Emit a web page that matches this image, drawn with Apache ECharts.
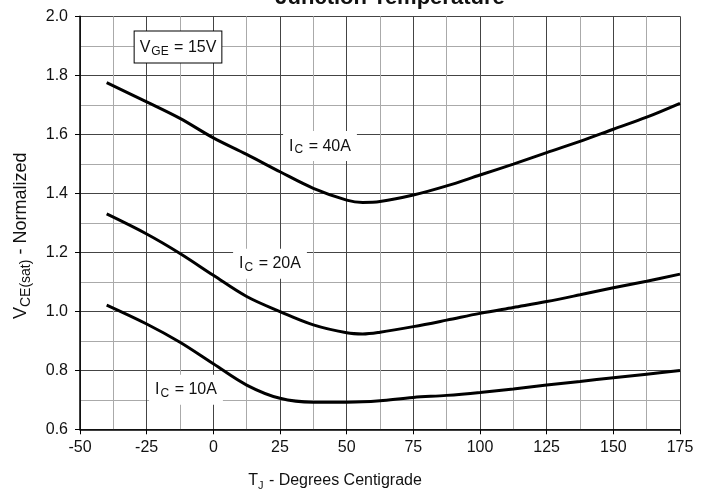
<!DOCTYPE html>
<html>
<head>
<meta charset="utf-8">
<script src="https://cdn.jsdelivr.net/npm/echarts@6/dist/echarts.min.js"></script>
<style>
html,body{margin:0;padding:0;background:#fff;}
#c{width:713px;height:498px;}
</style>
</head>
<body>
<div id="c"></div>
<script>
// Junction temperature (°C)
const temps = [-40, -25, -12.5, 0, 12.5, 25, 37.5, 50, 56, 62.5, 75, 87.5, 100, 112.5, 125, 137.5, 150, 162.5, 175];
// Normalized VCE(sat)
const ic40 = [1.775, 1.710, 1.654, 1.588, 1.532, 1.473, 1.417, 1.377, 1.369, 1.372, 1.394, 1.425, 1.462, 1.499, 1.538, 1.576, 1.617, 1.658, 1.705];
const ic20 = [1.330, 1.262, 1.196, 1.122, 1.050, 0.999, 0.954, 0.927, 0.923, 0.929, 0.948, 0.970, 0.993, 1.013, 1.033, 1.056, 1.080, 1.102, 1.126];
const ic10 = [1.021, 0.957, 0.895, 0.822, 0.750, 0.705, 0.692, 0.692, 0.693, 0.697, 0.708, 0.715, 0.725, 0.737, 0.750, 0.762, 0.775, 0.787, 0.799];
const xTicks = [-50, -25, 0, 25, 50, 75, 100, 125, 150, 175];
const yTicks = [0.6, 0.8, 1.0, 1.2, 1.4, 1.6, 1.8, 2.0];
// annotation labels
const labels = [
  {main: 'I', sub: 'C', rest: ' = 40A', at: [40, 1.56]},
  {main: 'I', sub: 'C', rest: ' = 20A', at: [21.25, 1.161]},
  {main: 'I', sub: 'C', rest: ' = 10A', at: [-10.25, 0.734]}
];
const vgeLabel = {main: 'V', sub: 'GE', rest: ' = 15V', at: [-13.25, 1.896]};

const FONT = '"Liberation Sans", Arial, Helvetica, sans-serif';
const rich = {
  m: {fontSize: 16, fontFamily: FONT, color: '#111', lineHeight: 20},
  s: {fontSize: 12, fontFamily: FONT, color: '#111', lineHeight: 20, verticalAlign: 'bottom', padding: [8, 1, 0, 1]}
};
function pair(a){ return a.map((v,i)=>[temps[i], v]); }
function mp(l, boxed){
  return {
    coord: l.at,
    symbol: 'rect', symbolSize: 0,
    label: {
      show: true, position: 'inside',
      formatter: '{m|' + l.main + '}{s|' + l.sub + '}{m|' + l.rest + '}',
      rich: rich,
      backgroundColor: '#fff',
      borderColor: boxed ? '#000' : 'transparent',
      borderWidth: boxed ? 1 : 0,
      padding: boxed ? [6, 5, 5, 5] : [5, 6, 5, 6]
    }
  };
}
const lineStyle = {color: '#000', width: 3};
const chart = echarts.init(document.getElementById('c'), null, {renderer: 'canvas'});
chart.setOption({
  animation: false,
  backgroundColor: '#fff',
  title: {
    text: 'Junction Temperature',
    left: 385, top: -18, textAlign: 'center',
    textStyle: {fontSize: 22, fontWeight: 'bold', fontFamily: FONT, color: '#111'}
  },
  grid: {left: 80, right: 33, top: 16.3, bottom: 68.7, containLabel: false},
  xAxis: {
    type: 'value', min: -50, max: 175, interval: 25,
    name: '{m|T}{s|J}{n| - Degrees Centigrade}',
    nameLocation: 'middle', nameGap: 40,
    nameTextStyle: {
      padding: [0, 90, 0, 0],
      rich: {
        m: {fontSize: 16, fontFamily: FONT, color: '#111', lineHeight: 22},
        n: {fontSize: 16, fontFamily: FONT, color: '#111', lineHeight: 22},
        s: {fontSize: 11, fontFamily: FONT, color: '#111', lineHeight: 22, verticalAlign: 'bottom', padding: [8, 1, 0, 0]}
      }
    },
    axisLine: {show: true, onZero: false, lineStyle: {color: '#000', width: 1.5}},
    axisTick: {show: true, inside: false, length: 5, lineStyle: {color: '#000'}},
    axisLabel: {fontSize: 16, fontFamily: FONT, color: '#111', margin: 10,
      formatter: v => xTicks.includes(v) ? String(v) : ''},
    splitLine: {show: true, lineStyle: {color: '#444', width: 1}},
    minorTick: {show: false, splitNumber: 2},
    minorSplitLine: {show: true, lineStyle: {color: '#aaa', width: 1}}
  },
  yAxis: {
    type: 'value', min: 0.6, max: 2.0, interval: 0.2,
    name: '{m|V}{s|CE(sat)}{n| - Normalized}',
    nameLocation: 'middle', nameGap: 47, nameRotate: 90,
    nameTextStyle: {
      padding: [0, 26, 0, 0],
      rich: {
        m: {fontSize: 18, fontFamily: FONT, color: '#111', lineHeight: 24},
        n: {fontSize: 18, fontFamily: FONT, color: '#111', lineHeight: 24},
        s: {fontSize: 14, fontFamily: FONT, color: '#111', lineHeight: 24, verticalAlign: 'bottom', padding: [7, 0, 0, 0]}
      }
    },
    axisLine: {show: true, onZero: false, lineStyle: {color: '#000', width: 1.5}},
    axisTick: {show: true, inside: false, length: 5, lineStyle: {color: '#000'}},
    axisLabel: {fontSize: 16, fontFamily: FONT, color: '#111', margin: 12,
      formatter: v => {
        const t = Math.round(v * 10) / 10;
        return yTicks.some(y => Math.abs(y - t) < 1e-6) ? t.toFixed(1) : '';
      }},
    splitLine: {show: true, lineStyle: {color: '#444', width: 1}},
    minorTick: {show: false, splitNumber: 2},
    minorSplitLine: {show: true, lineStyle: {color: '#aaa', width: 1}}
  },
  series: [
    {type: 'line', name: 'IC=40A', data: pair(ic40), smooth: 0.35, showSymbol: false, symbol: 'none', lineStyle: lineStyle,
     markPoint: {silent: true, data: [mp(labels[0], false), mp(vgeLabel, true)]}},
    {type: 'line', name: 'IC=20A', data: pair(ic20), smooth: 0.35, showSymbol: false, symbol: 'none', lineStyle: lineStyle,
     markPoint: {silent: true, data: [mp(labels[1], false)]}},
    {type: 'line', name: 'IC=10A', data: pair(ic10), smooth: 0.35, showSymbol: false, symbol: 'none', lineStyle: lineStyle,
     markPoint: {silent: true, data: [mp(labels[2], false)]}}
  ]
});
</script>
</body>
</html>
